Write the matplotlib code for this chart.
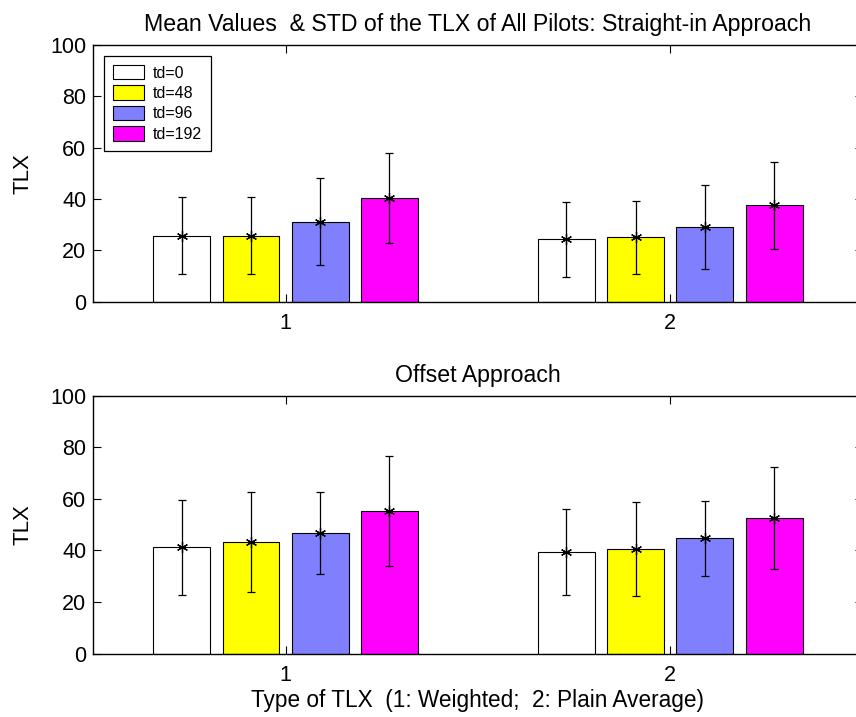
import numpy as np
import matplotlib
matplotlib.use("Agg")
import matplotlib.pyplot as plt

plt.rcParams['font.family'] = ['Liberation Sans', 'DejaVu Sans']

# data
groups = [1, 2]
labels = ['td=0', 'td=48', 'td=96', 'td=192']
colors = ['#ffffff', '#ffff00', '#8080ff', '#ff00ff']

# straight-in approach: mean and std per td, per TLX type
straight_mean = [[25.7, 24.3], [25.7, 25.1], [31.2, 29.1], [40.3, 37.5]]
straight_std = [[15.0, 14.5], [15.0, 14.2], [17.0, 16.2], [17.5, 17.0]]

# offset approach
offset_mean = [[41.2, 39.3], [43.4, 40.6], [46.8, 44.8], [55.2, 52.6]]
offset_std = [[18.4, 16.6], [19.3, 18.3], [15.8, 14.5], [21.4, 19.6]]

titles = ['Mean Values  & STD of the TLX of All Pilots: Straight-in Approach',
          'Offset Approach']

fig = plt.figure(figsize=(8.56, 7.17), dpi=100)
ax1 = fig.add_axes([0.109, 0.5792, 0.8986, 0.358])
ax2 = fig.add_axes([0.109, 0.0883, 0.8986, 0.3598])

star = (6, 2, 0)
x = np.array(groups, dtype=float)
width = 0.148
step = 0.18

for ax, means, stds, title in [(ax1, straight_mean, straight_std, titles[0]),
                               (ax2, offset_mean, offset_std, titles[1])]:
    for i in range(len(labels)):
        pos = x + (i - 1.5) * step
        ax.bar(pos, means[i], width, color=colors[i], edgecolor='black',
               linewidth=0.8, label=labels[i], zorder=2)
        ax.errorbar(pos, means[i], yerr=stds[i], fmt='none', ecolor='black',
                    elinewidth=0.9, capsize=3, capthick=0.9, zorder=3)
        ax.plot(pos, means[i], ls='none', marker=star, ms=8, mec='black',
                mew=0.9, zorder=4)
    ax.set_xlim(0.5, 2.5)
    ax.set_ylim(0, 100)
    ax.set_xticks(groups)
    ax.set_yticks([0, 20, 40, 60, 80, 100])
    ax.tick_params(direction='in', length=5.5, width=0.8, top=True,
                   right=True, labelsize=15.5)
    ax.tick_params(axis='y', pad=5)
    ax.tick_params(axis='x', pad=8)
    for s in ax.spines.values():
        s.set_linewidth(1.0)
    ax.set_ylabel('TLX', fontsize=16)
    ax.yaxis.set_label_coords(-0.078, 0.5)
    ax.set_title(title, fontsize=16.7, pad=10)

ax2.set_xlabel('Type of TLX  (1: Weighted;  2: Plain Average)', fontsize=16.3,
               labelpad=2)

leg = ax1.legend(loc='upper left', fontsize=11.5, borderaxespad=0.7,
                 fancybox=False, framealpha=1, edgecolor='black',
                 handlelength=1.9, handleheight=1.0, borderpad=0.55,
                 labelspacing=0.3, handletextpad=0.6)
leg.get_frame().set_linewidth(0.9)

fig.savefig('out.png', dpi=100)
